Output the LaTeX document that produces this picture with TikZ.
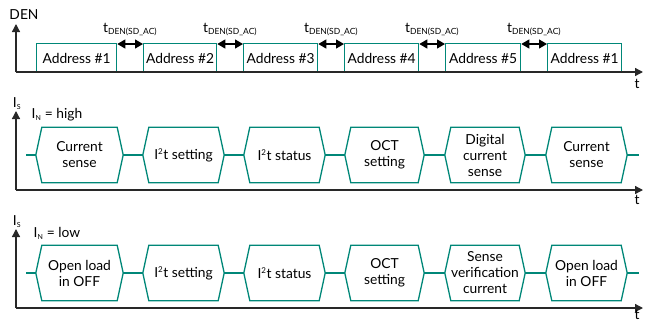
\documentclass[tikz,border=0pt]{standalone}
\usepackage{fontspec}
\setmainfont{Lato}
\usetikzlibrary{arrows.meta, calc, positioning}
\definecolor{ifxteal}{RGB}{0,135,120}
\definecolor{axisgray}{RGB}{40,40,40}
\tikzset{
  x=1pt, y=-1pt,
  axis/.style={draw=axisgray,line width=1.3pt,-{Triangle[length=8pt,width=8pt]}},
  sigline/.style={draw=ifxteal,line width=1.3pt},
  addrbox/.style={draw=ifxteal,line width=1.3pt,fill=white,minimum height=29pt,
    inner sep=0pt,font=\fontsize{13.8}{16}\selectfont},
  hexstate/.style={minimum height=55pt,inner sep=0pt,align=center,
    font=\fontsize{13.8}{16}\selectfont},
  gaparrow/.style={draw=black,line width=1.2pt,{Triangle[length=8pt,width=9pt]}-{Triangle[length=8pt,width=9pt]}},
  axlabel/.style={inner sep=0pt,font=\fontsize{13.8}{16}\selectfont},
  tlabel/.style={inner sep=0pt,anchor=south,font=\fontsize{13.8}{16}\selectfont}
}
\newcommand{\tden}{t\textsubscript{\fontsize{8.5}{9}\selectfont DEN(SD\_AC)}}
\newcommand{\isub}[1]{I\textsubscript{\fontsize{7}{8}\selectfont #1}}

\begin{document}
\begin{tikzpicture}
  \useasboundingbox (0,0) rectangle (651,324);

  % DEN
  \node[axlabel] at (24,15) (den){DEN};
  \coordinate (den0) at (16,72);
  \coordinate (dentop) at (16,24);
  \coordinate (denend) at (643,72);
  \draw[sigline] (26,71.5) -- (636,71.5);
  \foreach \xa/\xb/\lbl [count=\i] in
  {36/116/Address \#1, 143/216/Address \#2, 243/317/Address \#3,
   344/418/Address \#4, 445/520/Address \#5, 547/621/Address \#1}
  {
    \node[addrbox,minimum width=\xb-\xa,anchor=north west] at (\xa,43) (addr\i){\lbl};
  }
  \draw[axis] (den0) -- (dentop);
  \draw[axis] (den0) -- (denend);
  \node[axlabel] at (637,84) (tden){t};

  % gaps
  \foreach \i [evaluate=\i as \j using int(\i+1)] in {1,...,5}
  {
    \coordinate (gl\i) at ($(addr\i.north east)+(0,1)$);
    \coordinate (gr\i) at ($(addr\j.north west)+(0,1)$);
    \draw[gaparrow] (gl\i) -- (gr\i);
    \node[tlabel] at ($(gl\i)!0.5!(gr\i)+(0,-8)$) (gap\i){\tden};
  }

  % IS, IN = high / low
  \foreach \row/\y/\mode/\ty in {hi/0/high/200, lo/118/low/315}
  {
    \node[axlabel] at (17,104+\y) (is\row){\isub{S}};
    \node[axlabel] at (57,115+\y) (in\row){\isub{N} = \mode};
    \coordinate (is\row0) at (16,190+\y);
    \coordinate (is\row top) at (16,111+\y);
    \coordinate (is\row end) at (643,190+\y);
    \draw[axis] (is\row0) -- (is\row top);
    \draw[axis] (is\row0) -- (is\row end);
    \node[axlabel] at (637,\ty) (t\row){t};
    \coordinate (\row start) at (26,155+\y);
    \coordinate (\row stop) at (639,155+\y);
  }

  % states
  \foreach \xa/\xb/\lblhi/\lblo [count=\i] in
  {42/117/{Current\\sense}/{Open load\\in OFF},
   149/218/{I\textsuperscript{\fontsize{8}{9}\selectfont 2}t setting}/{I\textsuperscript{\fontsize{8}{9}\selectfont 2}t setting},
   250/319/{I\textsuperscript{\fontsize{8}{9}\selectfont 2}t status}/{I\textsuperscript{\fontsize{8}{9}\selectfont 2}t status},
   351/418/{OCT\\setting}/{OCT\\setting},
   451/519/{Digital\\current\\sense}/{Sense\\verification\\current},
   552/621/{Current\\sense}/{Open load\\in OFF}}
  {
    \node[hexstate,minimum width=\xb-\xa] at ({(\xa+\xb)/2},155) (hi\i){\lblhi};
    \node[hexstate,minimum width=\xb-\xa] at ({(\xa+\xb)/2},273) (lo\i){\lblo};
    \foreach \row in {hi,lo}
      \draw[sigline,line join=miter] (\row\i.north west) -- (\row\i.north east)
        -- ($(\row\i.east)+(6,0)$) -- (\row\i.south east) -- (\row\i.south west)
        -- ($(\row\i.west)-(6,0)$) -- cycle;
  }
  \foreach \row in {hi,lo}
  {
    \draw[sigline] (\row start) -- ($(\row1.west)-(6,0)$);
    \foreach \i [evaluate=\i as \j using int(\i+1)] in {1,...,5}
      \draw[sigline] ($(\row\i.east)+(6,0)$) -- ($(\row\j.west)-(6,0)$);
    \draw[sigline] ($(\row6.east)+(6,0)$) -- (\row stop);
  }
\end{tikzpicture}
\end{document}
